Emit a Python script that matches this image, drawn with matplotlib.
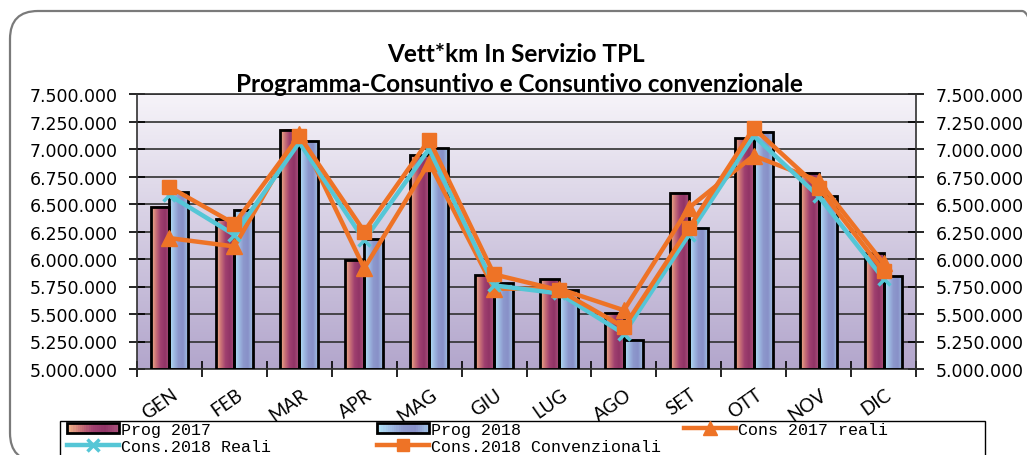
import numpy as np
import matplotlib
matplotlib.use('Agg')
import matplotlib.pyplot as plt
from matplotlib.patches import Rectangle, FancyBboxPatch
from matplotlib.lines import Line2D
from matplotlib.legend_handler import HandlerBase
from matplotlib.colors import LinearSegmentedColormap
from matplotlib.transforms import IdentityTransform, blended_transform_factory
from matplotlib.ticker import FuncFormatter, FixedLocator

# data (vett*km)
months = ['GEN', 'FEB', 'MAR', 'APR', 'MAG', 'GIU', 'LUG', 'AGO', 'SET', 'OTT', 'NOV', 'DIC']
prog_2017 = [6474000, 6367000, 7177000, 5990000, 6944000, 5854000, 5815000, 5513000, 6603000, 7097000, 6786000, 6053000]
prog_2018 = [6609000, 6450000, 7076000, 6180000, 7008000, 5785000, 5717000, 5268000, 6282000, 7158000, 6570000, 5845000]
cons_2017_reali = [6190000, 6114000, 7137000, 5916000, 6877000, 5730000, 5730000, 5534000, 6465000, 6940000, 6710000, 5960000]
cons_2018_reali = [6580000, 6220000, 7060000, 6170000, 7000000, 5760000, 5687000, 5320000, 6220000, 7120000, 6570000, 5820000]
cons_2018_conv = [6655000, 6320000, 7120000, 6250000, 7085000, 5860000, 5717000, 5380000, 6280000, 7190000, 6650000, 5890000]

ymin, ymax = 5000000, 7500000

orange = '#ee7326'
cyan = '#55c6d6'
cm17 = LinearSegmentedColormap.from_list('p17', ['#f4b88a', '#cc7478', '#a04070', '#903466', '#a8507a'])
cm18 = LinearSegmentedColormap.from_list('p18', ['#b2e6f8', '#a0bce4', '#8c98cc', '#8890c8', '#a0c0e4'])

fig = plt.figure(figsize=(10.27, 4.56), dpi=100)
W, H = 1027, 456

# outer rounded chart border
border = FancyBboxPatch((10, -6), 1040, 450, boxstyle='round,pad=0,rounding_size=28',
                        transform=IdentityTransform(), facecolor='none',
                        edgecolor='#7a7a7a', linewidth=1.6, zorder=-1)
fig.patches.append(border)

ax = fig.add_axes([137 / W, 86 / H, (916 - 137) / W, (370 - 95) / H])
ax.set_facecolor('none')

# plot-area gradient
bg = np.linspace(0, 1, 256)[:, None]
top_c = np.array([0.965, 0.955, 0.975])
bot_c = np.array([0.70, 0.65, 0.80])
bg_img = top_c[None, None, :] * (1 - bg[:, :, None]) + bot_c[None, None, :] * bg[:, :, None]
ax.imshow(bg_img, extent=(0, 1, 0, 1), transform=ax.transAxes, aspect='auto', zorder=0)

x = np.arange(len(months))
bw = 0.29
grad = np.linspace(0, 1, 64)[None, :]
for i in range(len(months)):
    for off, val, cm in [(-bw / 2, prog_2017[i], cm17), (bw / 2, prog_2018[i], cm18)]:
        x0 = x[i] + off - bw / 2
        ax.imshow(cm(grad), extent=(x0, x0 + bw, ymin, val), aspect='auto', zorder=2)
ax.bar(x - bw / 2, np.array(prog_2017) - ymin, bw, bottom=ymin, facecolor='none',
       edgecolor='black', linewidth=2, zorder=3)
ax.bar(x + bw / 2, np.array(prog_2018) - ymin, bw, bottom=ymin, facecolor='none',
       edgecolor='black', linewidth=2, zorder=3)

ax.plot(x, cons_2017_reali, color=orange, lw=3.2, marker='^', ms=12, zorder=4)
ax.plot(x, cons_2018_reali, color=cyan, lw=3.2, marker='x', ms=9, mew=2.5, zorder=5)
ax.plot(x, cons_2018_conv, color=orange, lw=3.2, marker='s', ms=10, zorder=6)

ax.set_xlim(-0.5, 11.5)
ax.set_ylim(ymin, ymax)
ax.set_yticks(np.arange(ymin, ymax + 1, 250000))
ax.yaxis.set_major_formatter(FuncFormatter(lambda v, p: f'{int(v):,}'.replace(',', '.')))
ax.grid(axis='y', color='#303030', linewidth=1.2, zorder=1)
ax.set_axisbelow(True)
ax.tick_params(axis='y', which='both', direction='inout', length=12, width=1.2,
               right=True, labelright=True, labelsize=12.5, pad=8, colors='black')
ax.xaxis.set_major_locator(FixedLocator(np.arange(-0.5, 12, 1)))
ax.xaxis.set_ticklabels([])
ax.tick_params(axis='x', direction='inout', length=12, width=1.2)
for s in ax.spines.values():
    s.set_linewidth(1.2)
    s.set_color('#303030')

trans = blended_transform_factory(ax.transData, ax.transAxes)
for i, m in enumerate(months):
    ax.text(i + 0.02, -0.06, m, transform=trans, rotation=35, ha='right', va='top',
            rotation_mode='anchor', fontsize=13.5, family='Lato')

# titles
fig.text(516 / W, 1 - 62 / H, 'Vett*km In Servizio TPL', ha='center', va='baseline',
         fontsize=17.5, fontweight='bold', family='Lato')
fig.text(519 / W, 1 - 92 / H, 'Programma-Consuntivo e Consuntivo convenzionale', ha='center',
         va='baseline', fontsize=17.5, fontweight='bold', family='Lato')


class GradHandler(HandlerBase):
    def __init__(self, cm):
        super().__init__()
        self.cm = cm

    def create_artists(self, legend, orig_handle, xdescent, ydescent, width, height, fontsize, trans):
        arts = []
        n = 24
        h = height * 0.9
        y0 = -ydescent + (height - h) / 2
        for k in range(n):
            arts.append(Rectangle((-xdescent + width * k / n, y0), width / n + 0.3, h,
                                  facecolor=self.cm(k / (n - 1)), edgecolor='none', transform=trans))
        arts.append(Rectangle((-xdescent, y0), width, h, facecolor='none', edgecolor='black',
                              linewidth=2, transform=trans))
        return arts


h17 = Rectangle((0, 0), 1, 1)
h18 = Rectangle((0, 0), 1, 1)
hc17 = Line2D([], [], color=orange, lw=3.2, marker='^', ms=10)
hc18r = Line2D([], [], color=cyan, lw=3.2, marker='x', ms=8, mew=2.5)
hc18c = Line2D([], [], color=orange, lw=3.2, marker='s', ms=8)
hmap = {h17: GradHandler(cm17), h18: GradHandler(cm18)}

# legend frame
fig.patches.append(Rectangle((60, -4), 925, 38, transform=IdentityTransform(),
                             facecolor='white', edgecolor='black', linewidth=1.0, zorder=5))

columns = [
    (67, [h17, hc18r], ['Prog 2017', 'Cons.2018 Reali']),
    (377, [h18, hc18c], ['Prog 2018', 'Cons.2018 Convenzionali']),
    (684, [hc17], ['Cons 2017 reali']),
]
for xpx, hs, ls in columns:
    lg = fig.legend(hs, ls, handler_map=hmap, loc='upper left',
                    bbox_to_anchor=(xpx / W, 1 - 423 / H), frameon=False,
                    prop={'family': 'Liberation Mono', 'size': 12},
                    handlelength=3.1, handletextpad=0.15, borderpad=0, labelspacing=0.1,
                    borderaxespad=0)
    lg.set_zorder(6)

fig.savefig('out.png', dpi=100)
